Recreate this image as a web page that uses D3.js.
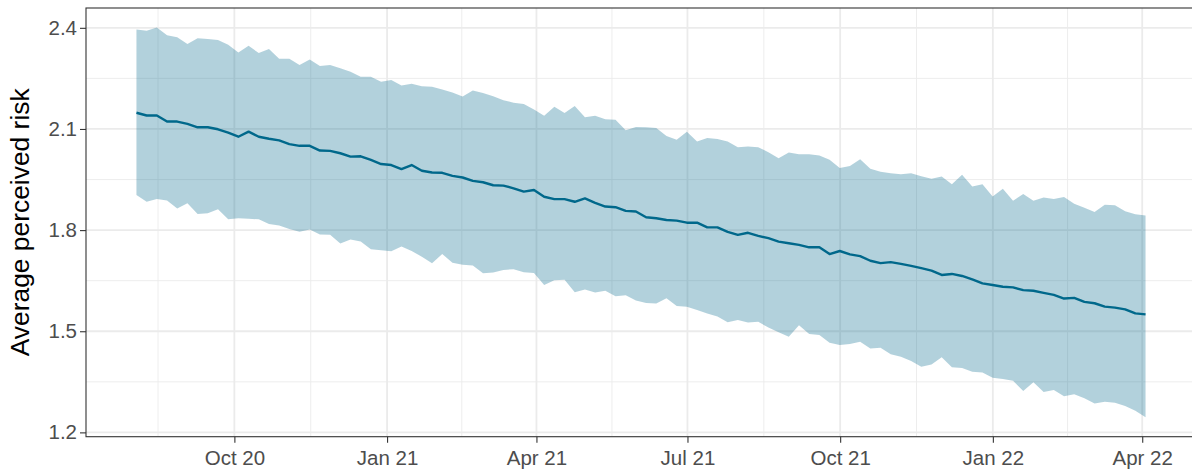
<!DOCTYPE html>
<html lang="en">
<head>
<meta charset="UTF-8">
<title>Average perceived risk</title>
<script src="https://d3js.org/d3.v7.min.js"></script>
<style>
    body{ margin: 0; background: white; }
    text{ font-family: "Liberation Sans", Arial, Helvetica, sans-serif; }
    .grid line{ stroke: #ebebeb; }
    .grid line.major{ stroke-width: 1.8px; }
    .grid line.minor{ stroke-width: 0.9px; }
    .axis text{ fill: #4d4d4d; font-size: 20.5px; }
    .axis line{ stroke: #333333; stroke-width: 1.1px; }
    .axis path{ display: none; }
    path.band{ fill: #00688B; fill-opacity: 0.3; stroke: none; }
    path.mean{ fill: none; stroke: #00688B; stroke-width: 2.4px; stroke-linejoin: round; }
</style>
</head>
<body>
<svg width="1192" height="471"></svg>
<script>
    // survey waves, evenly spaced between first and last wave
    let firstWave = "2020-08-03";
    let lastWave = "2022-04-03";
    let waveCount = 100;

    let meanRisk = [2.148,2.140,2.140,2.122,2.122,2.115,2.105,2.105,2.099,2.089,
        2.077,2.092,2.077,2.071,2.066,2.055,2.050,2.050,2.036,2.035,
        2.028,2.018,2.019,2.008,1.996,1.993,1.981,1.993,1.976,1.971,
        1.970,1.961,1.956,1.946,1.942,1.933,1.932,1.924,1.914,1.919,
        1.899,1.892,1.892,1.884,1.894,1.881,1.870,1.868,1.857,1.855,
        1.838,1.835,1.830,1.828,1.822,1.822,1.808,1.808,1.795,1.786,
        1.792,1.783,1.776,1.766,1.761,1.756,1.749,1.749,1.729,1.738,
        1.728,1.723,1.709,1.702,1.705,1.700,1.694,1.687,1.680,1.667,
        1.670,1.664,1.654,1.642,1.637,1.632,1.630,1.622,1.620,1.614,
        1.608,1.597,1.599,1.587,1.583,1.573,1.570,1.565,1.553,1.550];

    let upperRisk = [2.395,2.391,2.401,2.378,2.372,2.352,2.369,2.367,2.364,2.350,
        2.327,2.347,2.325,2.337,2.308,2.308,2.290,2.306,2.287,2.290,
        2.280,2.270,2.255,2.255,2.240,2.245,2.229,2.234,2.227,2.225,
        2.217,2.208,2.196,2.214,2.207,2.197,2.185,2.178,2.174,2.158,
        2.139,2.166,2.147,2.168,2.135,2.139,2.129,2.127,2.096,2.106,
        2.105,2.103,2.079,2.068,2.092,2.063,2.073,2.070,2.063,2.046,
        2.048,2.046,2.031,2.013,2.030,2.025,2.025,2.021,2.009,1.984,
        1.990,2.010,1.982,1.973,1.969,1.966,1.969,1.960,1.952,1.959,
        1.936,1.964,1.929,1.936,1.900,1.923,1.887,1.907,1.887,1.897,
        1.892,1.898,1.878,1.866,1.854,1.875,1.874,1.856,1.847,1.843];

    let lowerRisk = [1.904,1.884,1.892,1.888,1.864,1.880,1.848,1.850,1.862,1.832,
        1.835,1.834,1.832,1.818,1.814,1.803,1.795,1.802,1.787,1.786,
        1.760,1.772,1.766,1.743,1.740,1.737,1.751,1.738,1.721,1.702,
        1.729,1.703,1.697,1.695,1.672,1.674,1.682,1.684,1.675,1.673,
        1.637,1.651,1.653,1.616,1.624,1.615,1.620,1.604,1.607,1.591,
        1.584,1.582,1.598,1.575,1.573,1.563,1.553,1.544,1.527,1.533,
        1.526,1.528,1.511,1.497,1.484,1.518,1.492,1.489,1.466,1.459,
        1.462,1.469,1.449,1.451,1.432,1.424,1.412,1.395,1.401,1.423,
        1.393,1.391,1.380,1.378,1.362,1.358,1.353,1.323,1.349,1.320,
        1.326,1.307,1.313,1.301,1.286,1.291,1.288,1.278,1.264,1.245];

    let xBreaks = ["2020-07-01","2020-10-01","2021-01-01","2021-04-01","2021-07-01",
        "2021-10-01","2022-01-01","2022-04-01","2022-07-01"];
    let yBreaks = [1.2, 1.5, 1.8, 2.1, 2.4];
    let yTitle = "Average perceived risk";

    let parse = d3.timeParse("%Y-%m-%d");
    let t0 = parse(firstWave), t1 = parse(lastWave);
    let waveTime = d3.scaleLinear().domain([0, waveCount - 1]).range([+t0, +t1]);
    let data = meanRisk.map(function (d, i) {
        return {date: new Date(waveTime(i)), mean: d, lo: lowerRisk[i], hi: upperRisk[i]};
    });

    let margin = {left: 86, top: 8};
    let width = 1110, height = 428.7;   // panel runs a little past the right edge
    let svg = d3.select('svg');

    // ggplot style 5% expansion of the data range
    let xExt = d3.extent(data, function (d) { return d.date; });
    let xPad = (xExt[1] - xExt[0]) * 0.05;
    let xscale = d3.scaleTime()
        .domain([new Date(+xExt[0] - xPad), new Date(+xExt[1] + xPad)])
        .range([0, width]);
    let yMin = d3.min(lowerRisk), yMax = d3.max(upperRisk);
    let yPad = (yMax - yMin) * 0.05;
    let yscale = d3.scaleLinear().domain([yMin - yPad, yMax + yPad]).range([height, 0]);

    let xMajor = xBreaks.map(parse);
    let xMinor = d3.pairs(xMajor).map(function (p) { return new Date((+p[0] + +p[1]) / 2); });
    let yMinor = d3.pairs(yBreaks).map(function (p) { return (p[0] + p[1]) / 2; });

    svg.append('defs').append('clipPath').attr('id', 'panel')
        .append('rect').attr('width', width).attr('height', height);

    let fig = svg.append('g')
        .attr('transform', 'translate(' + margin.left + ',' + margin.top + ')');
    let panel = fig.append('g').attr('clip-path', 'url(#panel)');

    let grid = panel.append('g').attr('class', 'grid');
    grid.selectAll('line.ymin').data(yMinor).join('line')
        .attr('class', 'minor').attr('x1', 0).attr('x2', width)
        .attr('y1', function (d) { return yscale(d); }).attr('y2', function (d) { return yscale(d); });
    grid.selectAll('line.xmin').data(xMinor).join('line')
        .attr('class', 'minor').attr('y1', 0).attr('y2', height)
        .attr('x1', function (d) { return xscale(d); }).attr('x2', function (d) { return xscale(d); });
    grid.selectAll('line.ymaj').data(yBreaks).join('line')
        .attr('class', 'major').attr('x1', 0).attr('x2', width)
        .attr('y1', function (d) { return yscale(d); }).attr('y2', function (d) { return yscale(d); });
    grid.selectAll('line.xmaj').data(xMajor).join('line')
        .attr('class', 'major').attr('y1', 0).attr('y2', height)
        .attr('x1', function (d) { return xscale(d); }).attr('x2', function (d) { return xscale(d); });

    let band = d3.area()
        .x(function (d) { return xscale(d.date); })
        .y0(function (d) { return yscale(d.lo); })
        .y1(function (d) { return yscale(d.hi); });
    let meanLine = d3.line()
        .x(function (d) { return xscale(d.date); })
        .y(function (d) { return yscale(d.mean); });

    panel.append('path').datum(data).attr('class', 'band').attr('d', band);
    panel.append('path').datum(data).attr('class', 'mean').attr('d', meanLine);

    fig.append('rect').attr('width', width).attr('height', height)
        .attr('fill', 'none').attr('stroke', '#333333').attr('stroke-width', 1.1);

    let inView = xMajor.filter(function (d) {
        return d >= xscale.domain()[0] && d <= xscale.domain()[1];
    });
    let xAxis = fig.append('g').attr('class', 'axis')
        .attr('transform', 'translate(0,' + height + ')')
        .call(d3.axisBottom(xscale).tickValues(inView)
            .tickFormat(d3.timeFormat("%b %y")).tickSize(6).tickPadding(8));

    let yAxis = fig.append('g').attr('class', 'axis')
        .call(d3.axisLeft(yscale).tickValues(yBreaks)
            .tickFormat(d3.format(".1f")).tickSize(6).tickPadding(3));

    svg.append('text')
        .attr('transform', 'translate(29,' + (margin.top + height / 2) + ') rotate(-90)')
        .attr('text-anchor', 'middle')
        .attr('font-size', '26.4px')
        .attr('fill', 'black')
        .text(yTitle);
</script>
</body>
</html>
